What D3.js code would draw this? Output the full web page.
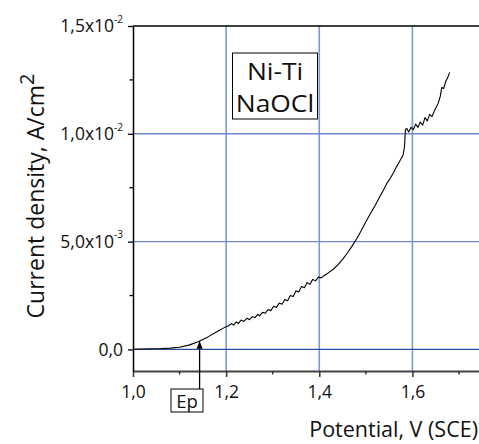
<!DOCTYPE html>
<html>
<head>
<meta charset="utf-8">
<script src="https://cdn.jsdelivr.net/npm/d3@7"></script>
<style>
  body { margin: 0; background: #fff; }
  svg { display: block; }
  text { font-family: "Open Sans", sans-serif; fill: #111; }
</style>
</head>
<body>
<svg id="chart" width="479" height="444"></svg>
<script>
// potential (V vs SCE) and current density (A/cm2)
const potential = [1.000, 1.020, 1.040, 1.060, 1.080, 1.100, 1.120, 1.140, 1.160, 1.180,
  1.195, 1.205, 1.212, 1.216, 1.222, 1.226, 1.232, 1.238, 1.245, 1.250,
  1.256, 1.262, 1.268, 1.272, 1.278, 1.284, 1.290, 1.296, 1.302, 1.308,
  1.314, 1.320, 1.326, 1.332, 1.338, 1.344, 1.350, 1.356, 1.362, 1.368,
  1.374, 1.380, 1.386, 1.392, 1.398, 1.404, 1.410, 1.420, 1.430, 1.440,
  1.450, 1.460, 1.470, 1.480, 1.490, 1.500, 1.510, 1.520, 1.530, 1.540,
  1.545, 1.550, 1.560, 1.566, 1.570, 1.580, 1.583, 1.585, 1.588, 1.592,
  1.597, 1.602, 1.607, 1.612, 1.617, 1.622, 1.627, 1.632, 1.637, 1.642,
  1.648, 1.655, 1.660, 1.663, 1.667, 1.672, 1.676, 1.680]
const current = [0.00001, 0.00002, 0.00003, 0.00004, 0.00006, 0.00010, 0.00020, 0.00036, 0.00057, 0.00082,
  0.00100, 0.00110, 0.00120, 0.00113, 0.00128, 0.00120, 0.00136, 0.00130, 0.00145, 0.00138,
  0.00152, 0.00148, 0.00163, 0.00156, 0.00172, 0.00168, 0.00185, 0.00180, 0.00200, 0.00195,
  0.00215, 0.00210, 0.00232, 0.00226, 0.00250, 0.00245, 0.00272, 0.00266, 0.00292, 0.00286,
  0.00310, 0.00302, 0.00325, 0.00318, 0.00336, 0.00332, 0.00342, 0.00356, 0.00372, 0.00392,
  0.00418, 0.00446, 0.00478, 0.00512, 0.00550, 0.00592, 0.00630, 0.00668, 0.00708, 0.00748,
  0.00770, 0.00785, 0.00822, 0.00848, 0.00862, 0.00902, 0.00940, 0.01020, 0.01025, 0.01008,
  0.01030, 0.01020, 0.01045, 0.01030, 0.01055, 0.01040, 0.01075, 0.01060, 0.01090, 0.01080,
  0.01110, 0.01140, 0.01175, 0.01215, 0.01210, 0.01245, 0.01262, 0.01285]

const xTicks = [1.0, 1.2, 1.4, 1.6]
const xTickLabels = ['1,0', '1,2', '1,4', '1,6']
const xMinor = [1.1, 1.3, 1.5, 1.7]
const yTicks = [0, 0.005, 0.01, 0.015]
const yTickMantissa = ['0,0', '5,0x10', '1,0x10', '1,5x10']
const yTickExp = ['', '-3', '-2', '-2']
const yMinor = [0.0025, 0.0075, 0.0125]
const xGrid = [1.2, 1.4, 1.6]
const yGrid = [0.005, 0.01]
const epPotential = 1.143
const epCurrent = 0.00040
const legendLines = ['Ni-Ti', 'NaOCl']

const svg = d3.select('#chart')
const plotLeft = 133, plotTop = 26, plotRight = 479, plotBottom = 371

const x = d3.scaleLinear().domain([1.0, 1.743]).range([plotLeft, plotRight])
const y = d3.scaleLinear().domain([-0.001, 0.015]).range([plotBottom, plotTop])

// grid lines
svg.append('g').selectAll('line').data(xGrid).join('line')
  .attr('x1', d => x(d)).attr('x2', d => x(d))
  .attr('y1', plotTop).attr('y2', plotBottom)
  .attr('stroke', '#7f96d2').attr('stroke-width', 1.6)
svg.append('g').selectAll('line').data(yGrid).join('line')
  .attr('x1', plotLeft).attr('x2', plotRight)
  .attr('y1', d => y(d)).attr('y2', d => y(d))
  .attr('stroke', '#6f88cc').attr('stroke-width', 1.4)
svg.append('line')
  .attr('x1', plotLeft).attr('x2', plotRight)
  .attr('y1', y(0)).attr('y2', y(0))
  .attr('stroke', '#2d4b9e').attr('stroke-width', 1.2)

// top frame line
svg.append('line')
  .attr('x1', plotLeft).attr('x2', plotRight)
  .attr('y1', plotTop).attr('y2', plotTop)
  .attr('stroke', '#000').attr('stroke-width', 1.5)

// x axis
let xAxisG = svg.append('g')
  .attr('transform', `translate(0,${plotBottom})`)
  .call(d3.axisBottom(x).tickValues(xTicks).tickSize(6).tickSizeOuter(0)
    .tickFormat((d, i) => xTickLabels[i]))
xAxisG.select('.domain').attr('stroke', '#444').attr('stroke-width', 2.2)
xAxisG.selectAll('.tick line').attr('stroke', '#333').attr('stroke-width', 1.5)
xAxisG.selectAll('.tick text')
  .attr('font-size', 17.5).attr('font-family', '"Open Sans", sans-serif')
  .attr('fill', '#111').attr('dy', '1.0em')
xAxisG.append('g').selectAll('line').data(xMinor).join('line')
  .attr('x1', d => x(d)).attr('x2', d => x(d))
  .attr('y1', 0).attr('y2', 3.5)
  .attr('stroke', '#333').attr('stroke-width', 1.5)

// y axis
let yAxisG = svg.append('g')
  .attr('transform', `translate(${plotLeft},0)`)
  .call(d3.axisLeft(y).tickValues(yTicks).tickSize(5).tickSizeOuter(0).tickFormat(''))
yAxisG.select('.domain').attr('stroke', '#000').attr('stroke-width', 1.5)
yAxisG.selectAll('.tick line').attr('stroke', '#000').attr('stroke-width', 1.3)
yAxisG.append('g').selectAll('line').data(yMinor).join('line')
  .attr('x1', -3.5).attr('x2', 0)
  .attr('y1', d => y(d)).attr('y2', d => y(d))
  .attr('stroke', '#000').attr('stroke-width', 1.3)

let yLabels = yAxisG.append('g').selectAll('text').data(yTicks).join('text')
  .attr('x', -10).attr('y', d => y(d))
  .attr('dy', '0.36em')
  .attr('text-anchor', 'end')
  .attr('font-size', 17.5)
yLabels.append('tspan').text((d, i) => yTickMantissa[i])
yLabels.append('tspan')
  .attr('font-size', 10).attr('dy', '-0.95em')
  .text((d, i) => yTickExp[i])

// curve
const points = potential.map((p, i) => [p, current[i]])
svg.append('path')
  .datum(points)
  .attr('fill', 'none')
  .attr('stroke', '#000')
  .attr('stroke-width', 1.1)
  .attr('stroke-linejoin', 'round')
  .attr('d', d3.line().x(d => x(d[0])).y(d => y(d[1])))

// Ep marker
svg.append('line')
  .attr('x1', x(epPotential)).attr('x2', x(epPotential))
  .attr('y1', 389).attr('y2', y(epCurrent) + 6)
  .attr('stroke', '#000').attr('stroke-width', 1.3)
svg.append('path')
  .attr('d', d3.line()([[x(epPotential) - 3, y(epCurrent) + 8], [x(epPotential), y(epCurrent)], [x(epPotential) + 3, y(epCurrent) + 8]]) + 'Z')
  .attr('fill', '#000')
svg.append('rect')
  .attr('x', 171).attr('y', 389).attr('width', 32).attr('height', 23)
  .attr('fill', '#fff').attr('stroke', '#000').attr('stroke-width', 1)
svg.append('text')
  .attr('x', 187).attr('y', 408)
  .attr('text-anchor', 'middle').attr('font-size', 18.5)
  .text('Ep')

// legend box
svg.append('rect')
  .attr('x', 232.5).attr('y', 53).attr('width', 85).attr('height', 66)
  .attr('fill', '#fff').attr('stroke', '#000').attr('stroke-width', 1)
svg.append('g').selectAll('text').data(legendLines).join('text')
  .attr('x', 275).attr('y', (d, i) => 80 + i * 32)
  .attr('text-anchor', 'middle')
  .attr('font-family', '"Liberation Sans", Arial, sans-serif')
  .attr('font-size', 24)
  .attr('transform', 'translate(275,0) scale(1.1,1) translate(-275,0)')
  .text(d => d)

// axis titles
svg.append('text')
  .attr('x', 478).attr('y', 437)
  .attr('text-anchor', 'end').attr('font-size', 21.5)
  .text('Potential, V (SCE)')

let yTitle = svg.append('text')
  .attr('transform', 'translate(44,196) rotate(-90)')
  .attr('text-anchor', 'middle').attr('font-size', 23)
yTitle.append('tspan').text('Current density, A/cm')
yTitle.append('tspan').attr('dy', '-0.5em').attr('font-size', 20).text('2')
</script>
</body>
</html>
